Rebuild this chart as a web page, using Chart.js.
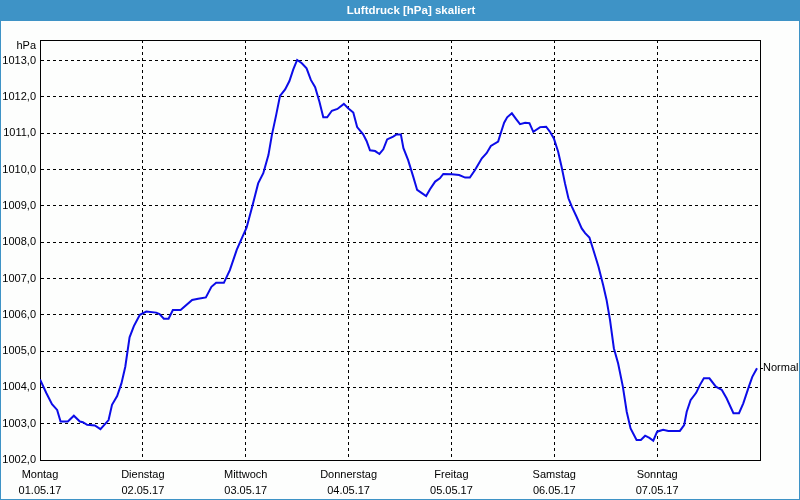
<!DOCTYPE html>
<html>
<head>
<meta charset="utf-8">
<script src="https://cdn.jsdelivr.net/npm/chart.js@4/dist/chart.umd.min.js"></script>
<style>
  html, body { margin: 0; padding: 0; background: #fdfefd; }
  #wrap { width: 800px; height: 500px; position: relative; }
</style>
</head>
<body>
<div id="wrap"><canvas id="chart" width="800" height="500"></canvas></div>
<script>
// hours since Montag 01.05.17 00:00
const hours = [
    0, 1.5, 2.8, 4.0, 4.8, 6.5, 7.9, 9.3, 10.0, 11.0, 12.8, 14.1, 16.0, 16.8, 18.0, 19.0,
    19.9, 20.9, 21.9, 23.3, 24.8, 27.1, 27.9, 28.9, 30.0, 31.0, 32.8, 35.5, 36.9, 38.7, 40.0,
    41.1, 42.9, 44.3, 45.9, 47.1, 48.2, 49.6, 50.9, 52.1, 53.3, 54.1, 55.1, 56.0, 57.2, 58.2,
    59.1, 60.0, 61.1, 62.2, 63.2, 64.2, 65.2, 66.1, 67.0, 68.1, 69.4, 70.9, 71.9, 73.1, 74.0,
    75.4, 76.2, 77.0, 78.2, 79.2, 80.1, 81.0, 82.4, 83.2, 84.2, 84.8, 85.9, 87.1, 88.0, 89.1,
    90.1, 91.0, 92.2, 93.3, 94.1, 96.1, 97.8, 99.2, 100.3, 101.5, 103.1, 104.2, 105.2, 106.9,
    107.5, 108.3, 109.0, 110.1, 111.1, 112.0, 113.2, 114.2, 115.1, 116.7, 118.1, 119.0, 119.9,
    120.9, 121.7, 122.5, 123.3, 124.1, 125.2, 126.4, 127.2, 128.2, 129.1, 130.3, 131.4, 132.2,
    133.0, 133.9, 134.9, 136.0, 136.9, 137.8, 139.2, 140.2, 141.2, 142.2, 143.1, 144.0, 145.4,
    146.6, 149.3, 150.3, 150.9, 151.8, 153.1, 154.0, 154.9, 156.2, 157.7, 159.1, 160.2, 161.8,
    163.1, 164.1, 165.4, 166.2, 167.3
];
const pressure = [
    1004.22, 1003.84, 1003.54, 1003.38, 1003.06, 1003.06, 1003.22, 1003.06, 1003.04, 1002.97,
    1002.95, 1002.85, 1003.10, 1003.52, 1003.76, 1004.11, 1004.57, 1005.38, 1005.69, 1006.00,
    1006.09, 1006.06, 1006.02, 1005.89, 1005.89, 1006.13, 1006.13, 1006.41, 1006.44, 1006.48,
    1006.77, 1006.88, 1006.88, 1007.23, 1007.79, 1008.11, 1008.40, 1009.02, 1009.62, 1009.90,
    1010.40, 1010.95, 1011.50, 1012.03, 1012.21, 1012.44, 1012.76, 1013.02, 1012.93, 1012.79,
    1012.47, 1012.27, 1011.87, 1011.44, 1011.44, 1011.62, 1011.67, 1011.81, 1011.69, 1011.57,
    1011.17, 1010.97, 1010.79, 1010.53, 1010.51, 1010.43, 1010.56, 1010.83, 1010.91, 1010.97,
    1010.97, 1010.59, 1010.26, 1009.80, 1009.44, 1009.35, 1009.27, 1009.46, 1009.67, 1009.76,
    1009.88, 1009.87, 1009.85, 1009.78, 1009.78, 1009.99, 1010.31, 1010.45, 1010.65, 1010.77,
    1011.00, 1011.29, 1011.44, 1011.55, 1011.39, 1011.25, 1011.29, 1011.28, 1011.04, 1011.17,
    1011.18, 1011.04, 1010.86, 1010.49, 1010.08, 1009.62, 1009.21, 1008.98, 1008.70, 1008.38,
    1008.25, 1008.13, 1007.79, 1007.33, 1006.82, 1006.41, 1005.86, 1005.08, 1004.66, 1004.02,
    1003.33, 1002.87, 1002.55, 1002.55, 1002.67, 1002.61, 1002.53, 1002.78, 1002.83, 1002.80,
    1002.80, 1002.96, 1003.33, 1003.65, 1003.85, 1004.07, 1004.25, 1004.25, 1004.02, 1003.93,
    1003.70, 1003.29, 1003.29, 1003.56, 1004.02, 1004.29, 1004.53
];
const dayNames = ['Montag', 'Dienstag', 'Mittwoch', 'Donnerstag', 'Freitag', 'Samstag', 'Sonntag'];
const dayDates = ['01.05.17', '02.05.17', '03.05.17', '04.05.17', '05.05.17', '06.05.17', '07.05.17'];
const titleText = 'Luftdruck [hPa] skaliert';
const unitText = 'hPa';
const seriesName = 'Normal';

const FONT = '"Liberation Sans", Arial, sans-serif';

// title bar, frame and extra labels
const framePlugin = {
    id: 'frame',
    beforeDraw(chart) {
        const c = chart.ctx;
        c.save();
        c.fillStyle = '#fdfefd';
        c.fillRect(0, 0, 800, 500);
        c.fillStyle = '#3e93c6';
        c.fillRect(0, 0, 800, 21);
        c.fillRect(0, 0, 1, 500);
        c.fillRect(799, 0, 1, 500);
        c.fillRect(0, 499, 800, 1);
        c.fillStyle = '#ffffff';
        c.font = 'bold 11.5px ' + FONT;
        c.textAlign = 'center';
        c.textBaseline = 'middle';
        c.fillText(titleText, 411, 11);
        c.restore();
    },
    beforeDatasetsDraw(chart) {
        const a = chart.chartArea;
        const c = chart.ctx;
        c.save();
        c.strokeStyle = '#000000';
        c.lineWidth = 1;
        c.strokeRect(Math.round(a.left) + 0.5, Math.round(a.top) + 0.5,
            Math.round(a.right - a.left), Math.round(a.bottom - a.top));
        c.restore();
    },
    afterDraw(chart) {
        const a = chart.chartArea;
        const c = chart.ctx;
        const y = chart.scales.y;
        c.save();
        c.fillStyle = '#000000';
        c.font = '11px ' + FONT;
        c.textBaseline = 'middle';
        c.textAlign = 'right';
        c.fillText(unitText, 36, 46);
        const ly = Math.round(y.getPixelForValue(pressure[pressure.length - 1]));
        c.fillRect(a.right, ly, 3, 1);
        c.textAlign = 'left';
        c.fillText(seriesName, a.right + 3, ly);
        c.restore();
    }
};

const ctx = document.getElementById('chart').getContext('2d');
const chart = new Chart(ctx, {
    type: 'line',
    data: {
        datasets: [{
            label: seriesName,
            data: hours.map((h, i) => ({ x: h, y: pressure[i] })),
            borderColor: '#0c0ce8',
            borderWidth: 2,
            pointRadius: 0,
            fill: false,
            tension: 0,
        }]
    },
    options: {
        responsive: false,
        animation: false,
        layout: { padding: { top: 40, right: 40, left: 0, bottom: 0 } },
        plugins: {
            legend: { display: false },
            title: { display: false },
            tooltip: { enabled: false },
        },
        scales: {
            x: {
                type: 'linear',
                min: 0,
                max: 168,
                afterFit: (s) => { s.height = 40; },
                ticks: {
                    stepSize: 24,
                    autoSkip: false,
                    maxRotation: 0,
                    padding: 7,
                    color: '#000000',
                    font: { family: FONT, size: 11, lineHeight: 16 / 11 },
                    callback: (v) => {
                        const d = Math.round(v / 24);
                        return d < dayNames.length ? [dayNames[d], dayDates[d]] : '';
                    },
                },
                grid: { color: '#000000', drawTicks: false },
                border: { color: '#000000', dash: [3, 3] },
            },
            y: {
                min: 1002,
                max: 1013.57,
                afterFit: (s) => { s.width = 40; },
                ticks: {
                    stepSize: 1,
                    includeBounds: false,
                    padding: 4,
                    color: '#000000',
                    font: { family: FONT, size: 11 },
                    callback: (v) => v.toFixed(1).replace('.', ','),
                },
                grid: { color: '#000000', drawTicks: false },
                border: { color: '#000000', dash: [3, 3] },
            },
        },
    },
    plugins: [framePlugin],
});
</script>
</body>
</html>
